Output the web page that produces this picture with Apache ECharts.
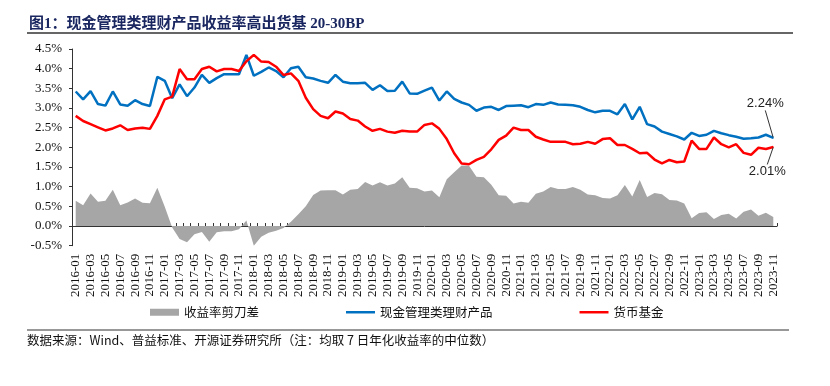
<!DOCTYPE html>
<html>
<head>
<meta charset="utf-8">
<script src="https://cdn.jsdelivr.net/npm/echarts@6/dist/echarts.min.js"></script>
<style>html,body{margin:0;padding:0;background:#fff;}#c{width:830px;height:386px;}</style>
</head>
<body>
<div id="c"></div>
<script>
// Categories: monthly 2016-01 .. 2023-11
var categories = [];
for (var y = 2016; y <= 2023; y++) {
  for (var m = 1; m <= 12; m++) {
    if (y === 2023 && m > 11) break;
    categories.push(y + '-' + (m < 10 ? '0' + m : '' + m));
  }
}
var yTicks = [-0.5, 0, 0.5, 1, 1.5, 2, 2.5, 3, 3.5, 4, 4.5];

var cashMgmt = [3.42,3.22,3.43,3.10,3.06,3.42,3.09,3.06,3.20,3.10,3.05,3.79,3.69,3.25,3.60,3.30,3.52,3.84,3.64,3.76,
  3.86,3.86,3.86,4.35,3.82,3.92,4.03,3.94,3.78,4.01,4.05,3.78,3.75,3.69,3.64,3.84,3.67,3.63,3.63,3.64,
  3.46,3.58,3.43,3.44,3.67,3.37,3.36,3.44,3.52,3.19,3.42,3.23,3.14,3.08,2.93,3.01,3.03,2.95,3.05,3.06,
  3.07,3.02,3.10,3.08,3.14,3.09,3.08,3.07,3.03,2.95,2.89,2.93,2.93,2.84,3.10,2.71,3.03,2.59,2.53,2.40,
  2.34,2.28,2.20,2.37,2.29,2.32,2.42,2.36,2.31,2.27,2.22,2.23,2.25,2.32,2.24];
var moneyFund = [2.80,2.67,2.59,2.51,2.43,2.48,2.56,2.44,2.48,2.50,2.47,2.80,3.22,3.29,3.99,3.73,3.73,3.99,4.05,3.93,
  3.99,3.99,3.94,4.19,4.35,4.18,4.17,4.05,3.84,3.88,3.69,3.26,2.97,2.80,2.74,2.91,2.86,2.72,2.68,2.53,
  2.42,2.47,2.40,2.37,2.42,2.40,2.40,2.57,2.61,2.47,2.21,1.85,1.59,1.57,1.68,1.76,1.95,2.19,2.30,2.50,
  2.44,2.44,2.27,2.20,2.14,2.14,2.14,2.08,2.09,2.14,2.09,2.21,2.23,2.06,2.06,1.96,1.85,1.86,1.69,1.59,
  1.68,1.62,1.64,2.17,1.96,1.96,2.25,2.08,2.00,2.08,1.86,1.81,1.99,1.96,2.01];
var spread = [0.64,0.53,0.83,0.62,0.64,0.92,0.53,0.60,0.70,0.59,0.58,0.97,0.49,-0.04,-0.33,-0.41,-0.21,-0.15,-0.40,-0.16,
  -0.13,-0.13,-0.08,0.14,-0.50,-0.27,-0.17,-0.12,-0.05,0.11,0.30,0.50,0.79,0.90,0.91,0.91,0.80,0.92,0.94,1.12,
  1.03,1.11,1.03,1.08,1.24,0.97,0.96,0.88,0.90,0.73,1.19,1.37,1.54,1.53,1.25,1.24,1.05,0.78,0.77,0.57,
  0.62,0.59,0.82,0.88,0.99,0.94,0.94,0.99,0.92,0.80,0.78,0.71,0.70,0.78,1.04,0.75,1.17,0.74,0.84,0.81,
  0.66,0.65,0.57,0.20,0.33,0.35,0.18,0.28,0.31,0.19,0.36,0.42,0.26,0.34,0.23];

var seriesNames = ['收益率剪刀差', '现金管理类理财产品', '货币基金'];
var titleText = '图1：现金管理类理财产品收益率高出货基 20-30BP';
var sourceText = '数据来源：Wind、普益标准、开源证券研究所（注：均取 7 日年化收益率的中位数）';

function withEndLabel(arr, color) {
  return arr.map(function (v, i) {
    if (i !== arr.length - 1) return v;
    return {
      value: v,
      symbol: 'circle',
      symbolSize: 1,
      itemStyle: { color: color },
      label: {
        show: true,
        position: 'inside',
        formatter: function (p) { return Number(p.value).toFixed(2) + '%'; },
        fontFamily: "'Liberation Sans', Arial, sans-serif",
        fontSize: 13,
        color: '#222'
      }
    };
  });
}

var serif = "'Liberation Serif','Times New Roman',serif";
var cjk = "'Liberation Serif','Noto Sans CJK SC',serif";
var lineIcon = 'path://M0,0L40,0L40,3.4L0,3.4Z';

var chart = echarts.init(document.getElementById('c'), null, { renderer: 'canvas' });
chart.setOption({
  animation: false,
  backgroundColor: '#fff',
  title: {
    text: titleText,
    left: 24,
    top: 12,
    textStyle: { fontFamily: cjk, fontSize: 15, fontWeight: 'bold', color: '#1a2760' }
  },
  graphic: [
    { type: 'line', shape: { x1: 27, y1: 33, x2: 793, y2: 33 }, style: { stroke: '#333', lineWidth: 1.3 } },
    { type: 'line', shape: { x1: 27, y1: 330, x2: 789, y2: 330 }, style: { stroke: '#333', lineWidth: 1.2 } },
    { type: 'text', left: 27, top: 334, style: { text: sourceText, font: "12.5px 'Noto Sans CJK SC'", fill: '#111' } }
  ],
  legend: {
    left: 150,
    top: 306,
    padding: 0,
    itemWidth: 29,
    itemHeight: 7,
    itemGap: 87,
    symbolKeepAspect: true,
    textStyle: { fontFamily: "'Noto Sans CJK SC'", fontSize: 12.5, color: '#111' },
    data: [
      { name: seriesNames[0], icon: 'rect' },
      { name: seriesNames[1], icon: lineIcon },
      { name: seriesNames[2], icon: lineIcon }
    ]
  },
  grid: { left: 72, right: 53, top: 49, bottom: 140.3, containLabel: false },
  xAxis: {
    type: 'category',
    data: categories,
    boundaryGap: true,
    axisLine: { onZero: true, lineStyle: { color: '#333', width: 1 } },
    axisTick: { show: true, inside: true, length: 3, interval: 0, lineStyle: { color: '#333' } },
    axisLabel: { interval: 1, rotate: 90, margin: 8, fontFamily: serif, fontSize: 13, color: '#111' },
    splitLine: { show: false }
  },
  yAxis: {
    type: 'value',
    min: yTicks[0],
    max: yTicks[yTicks.length - 1],
    interval: 0.5,
    axisLine: { show: true, lineStyle: { color: '#333', width: 1 } },
    axisTick: { show: true, length: 3, lineStyle: { color: '#333' } },
    axisLabel: { margin: 10, fontFamily: serif, fontSize: 13, color: '#111',
      formatter: function (v) { return v.toFixed(1) + '%'; } },
    splitLine: { show: false }
  },
  series: [
    {
      name: seriesNames[0],
      type: 'line',
      data: spread,
      symbol: 'none',
      itemStyle: { color: '#a6a6a6' },
      lineStyle: { width: 0, color: '#a6a6a6' },
      areaStyle: { color: '#a6a6a6', opacity: 1 },
      z: 1
    },
    {
      name: seriesNames[1],
      type: 'line',
      data: withEndLabel(cashMgmt, '#0070c0'),
      symbol: 'none',
      showSymbol: true,
      showAllSymbol: true,
      itemStyle: { color: '#0070c0' },
      lineStyle: { width: 2.5, color: '#0070c0' },
      labelLayout: { dx: -8, dy: -34 },
      labelLine: { show: true, lineStyle: { color: '#333', width: 1 } },
      z: 3
    },
    {
      name: seriesNames[2],
      type: 'line',
      data: withEndLabel(moneyFund, '#ff0000'),
      symbol: 'none',
      showSymbol: true,
      showAllSymbol: true,
      itemStyle: { color: '#ff0000' },
      lineStyle: { width: 2.5, color: '#ff0000' },
      labelLayout: { dx: -6, dy: 24 },
      labelLine: { show: true, lineStyle: { color: '#333', width: 1 } },
      z: 4
    }
  ]
});
</script>
</body>
</html>
